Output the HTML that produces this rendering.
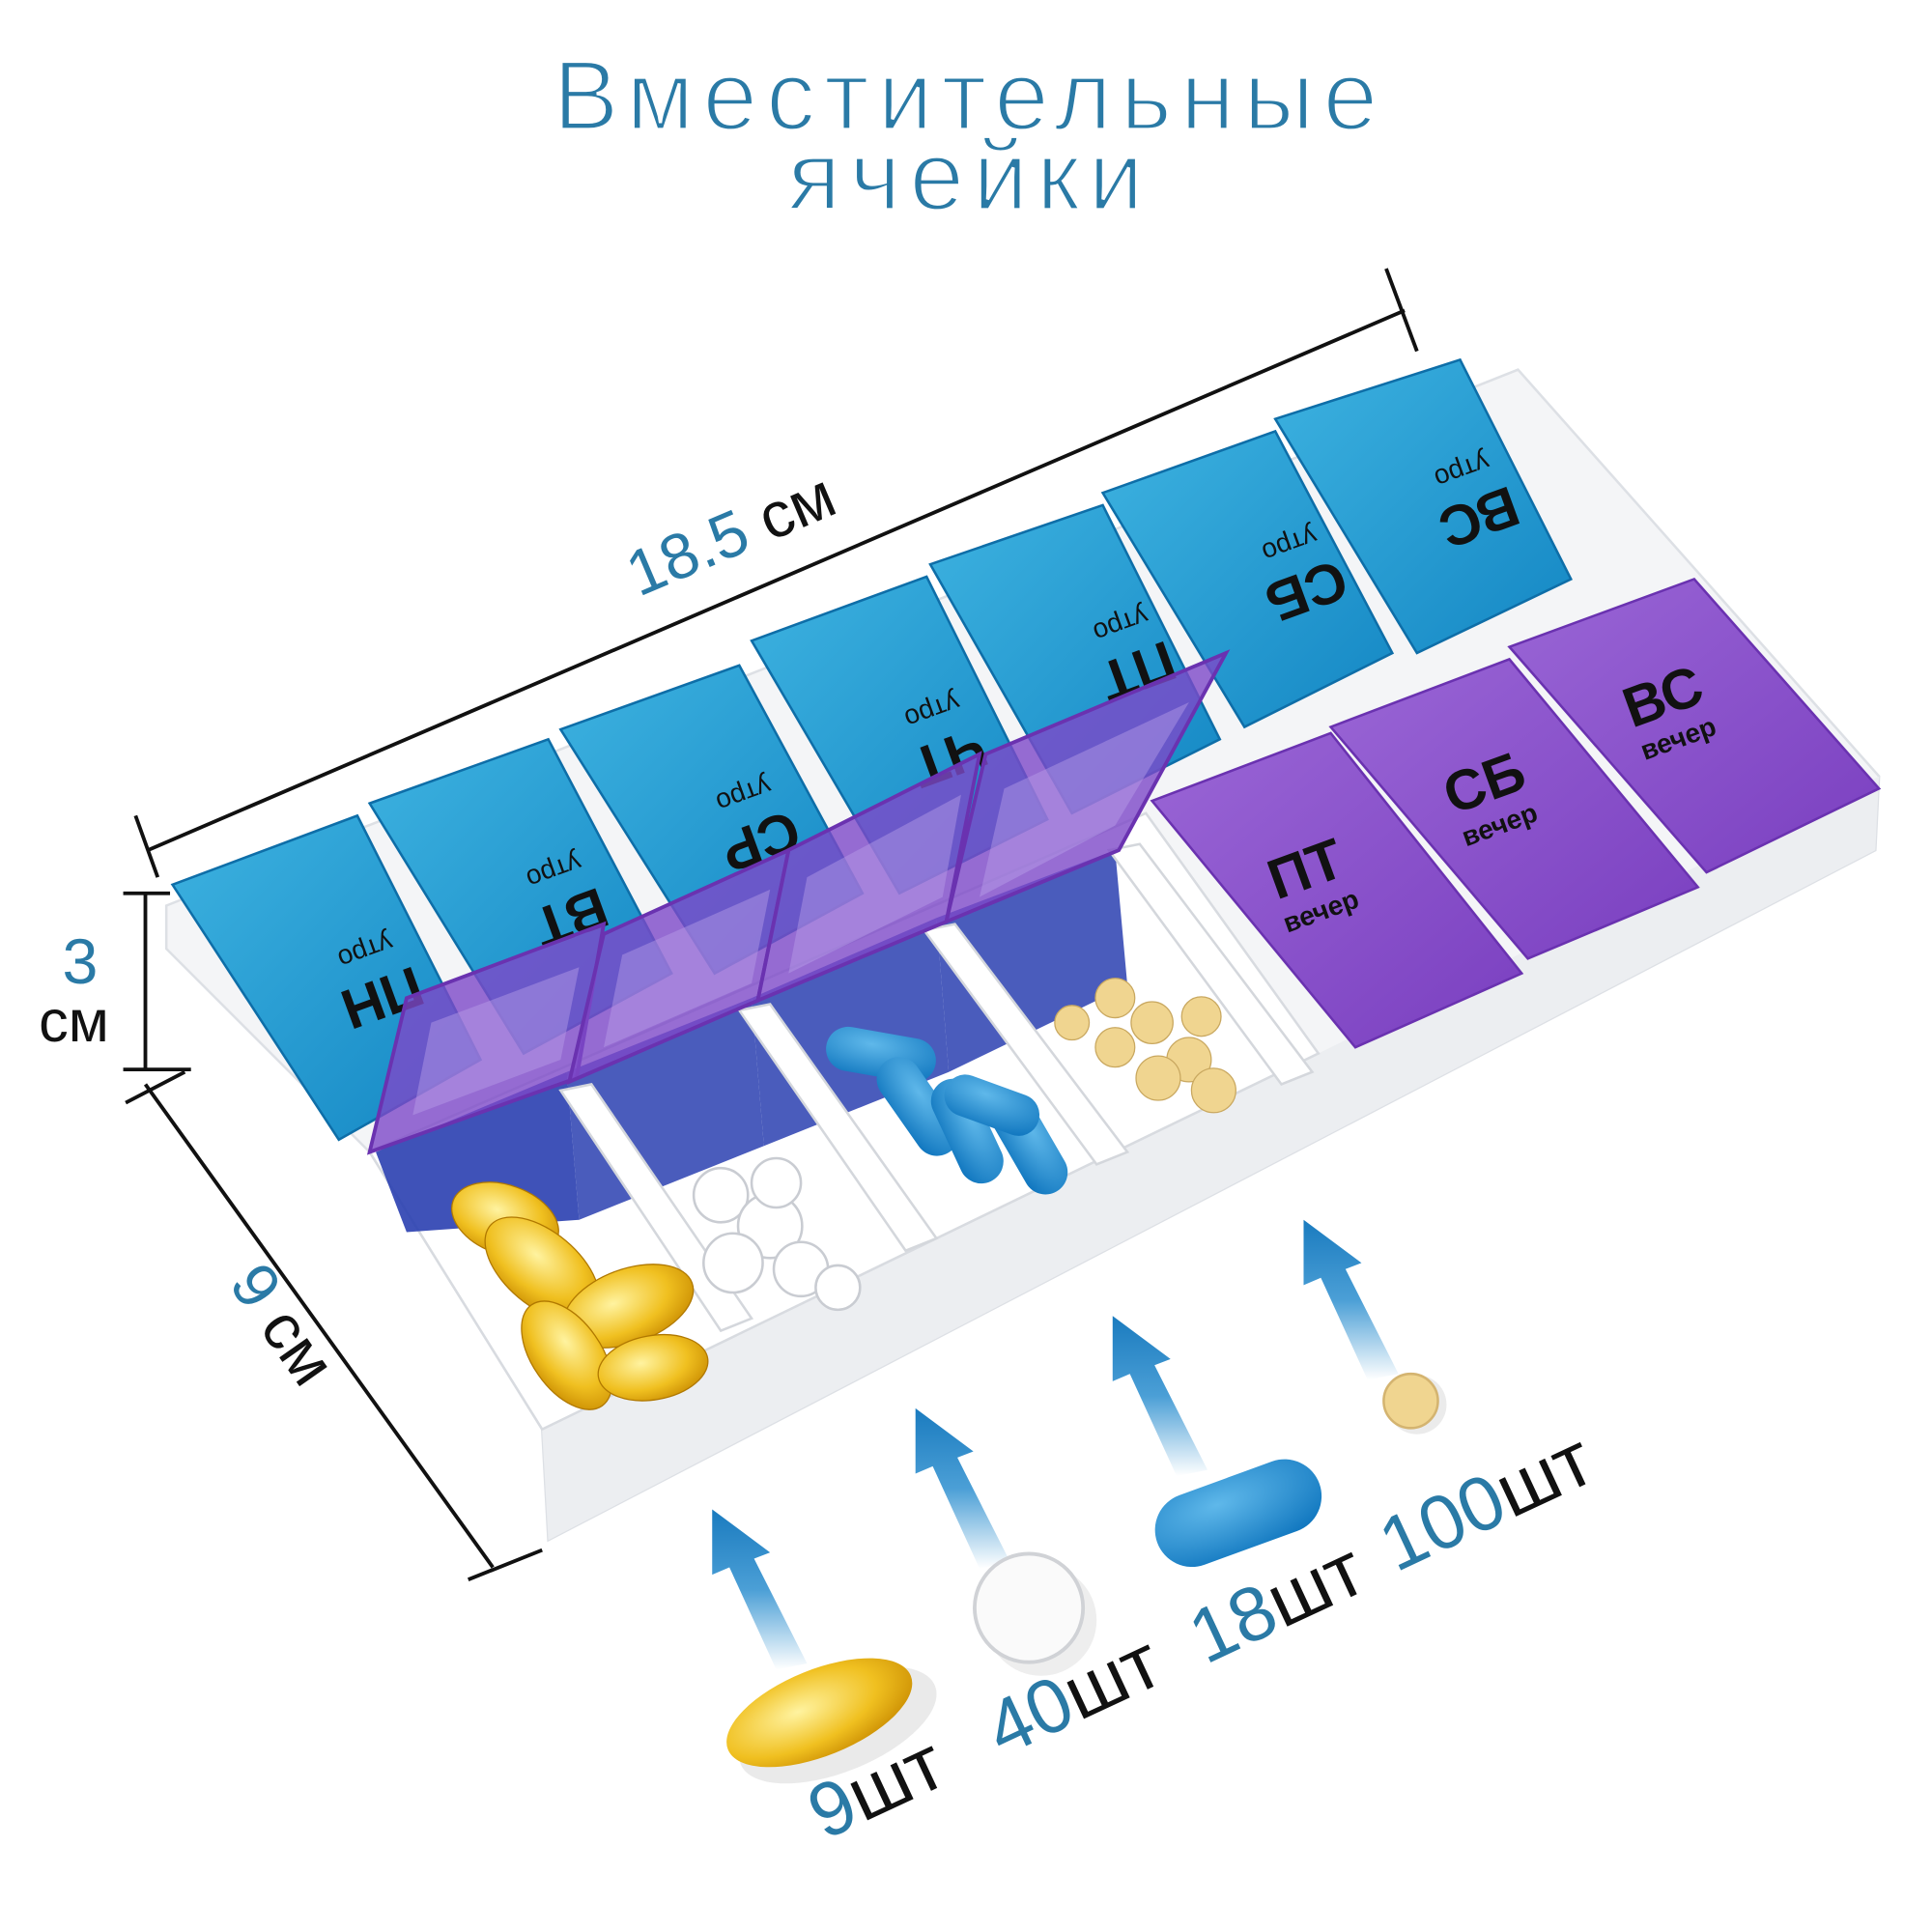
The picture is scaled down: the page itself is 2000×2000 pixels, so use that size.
<!DOCTYPE html>
<html><head><meta charset="utf-8"><style>
html,body{margin:0;padding:0;background:#fff;width:2000px;height:2000px;overflow:hidden}
svg{display:block}
text{font-family:"Liberation Sans",sans-serif}
</style></head><body>
<svg width="2000" height="2000" viewBox="0 0 1568 1568" xmlns="http://www.w3.org/2000/svg">
<defs>
<linearGradient id="bl" x1="0" y1="0" x2="1" y2="1"><stop offset="0" stop-color="#3db2e0"/><stop offset="1" stop-color="#1487c4"/></linearGradient>
<linearGradient id="pu" x1="0" y1="0" x2="1" y2="1"><stop offset="0" stop-color="#9a66d6"/><stop offset="1" stop-color="#7a3fc0"/></linearGradient>
<linearGradient id="ar" x1="0" y1="0" x2="0" y2="1"><stop offset="0" stop-color="#1a7bbf"/><stop offset="0.5" stop-color="#4b9fd6"/><stop offset="1" stop-color="#ffffff"/></linearGradient>
<radialGradient id="yc" cx="0.4" cy="0.4" r="0.7"><stop offset="0" stop-color="#fff3a0"/><stop offset="0.6" stop-color="#f0c020"/><stop offset="1" stop-color="#c88a00"/></radialGradient>
<radialGradient id="bc" cx="0.4" cy="0.3" r="0.8"><stop offset="0" stop-color="#5fb8ea"/><stop offset="1" stop-color="#1278c0"/></radialGradient>
</defs>

<!-- title -->
<text x="787" y="105" text-anchor="middle" font-size="80" fill="#2a7aa6" stroke="#fff" stroke-width="2.5" letter-spacing="7">Вместительные</text>
<text x="787" y="170" text-anchor="middle" font-size="80" fill="#2a7aa6" stroke="#fff" stroke-width="2.5" letter-spacing="7">ячейки</text>

<!-- tray white body -->
<polygon points="135,735 1232,300 1525,630 1522,690 445,1250 440,1160 300,935 135,770" fill="#f4f5f7" stroke="#dde0e5" stroke-width="2"/>
<polygon points="300,935 440,1160 445,1250 1522,690 1525,630 1070,855" fill="#eceef1"/>

<!-- back row blue lids -->
<g stroke="#0e6ea8" stroke-width="2">
<polygon points="1035,340 1185,292 1275,470 1150,530" fill="url(#bl)"/>
<polygon points="895,400 1035,350 1130,530 1010,590" fill="url(#bl)"/>
<polygon points="755,458 895,410 990,600 870,660" fill="url(#bl)"/>
<polygon points="610,520 752,468 850,665 730,725" fill="url(#bl)"/>
<polygon points="455,592 600,540 700,725 580,790" fill="url(#bl)"/>
<polygon points="300,652 445,600 545,790 425,855" fill="url(#bl)"/>
<polygon points="140,718 290,662 390,860 275,925" fill="url(#bl)"/>
</g>
<g font-weight="bold" fill="#111">
<g transform="translate(305,795) rotate(160)"><text font-size="46" text-anchor="middle">ПН</text><text y="32" font-size="22" text-anchor="middle" font-weight="normal">утро</text></g>
<g transform="translate(458,730) rotate(160)"><text font-size="46" text-anchor="middle">ВТ</text><text y="32" font-size="22" text-anchor="middle" font-weight="normal">утро</text></g>
<g transform="translate(612,668) rotate(160)"><text font-size="46" text-anchor="middle">СР</text><text y="32" font-size="22" text-anchor="middle" font-weight="normal">утро</text></g>
<g transform="translate(765,600) rotate(160)"><text font-size="46" text-anchor="middle">ЧТ</text><text y="32" font-size="22" text-anchor="middle" font-weight="normal">утро</text></g>
<g transform="translate(918,530) rotate(160)"><text font-size="46" text-anchor="middle">ПТ</text><text y="32" font-size="22" text-anchor="middle" font-weight="normal">утро</text></g>
<g transform="translate(1055,465) rotate(160)"><text font-size="46" text-anchor="middle">СБ</text><text y="32" font-size="22" text-anchor="middle" font-weight="normal">утро</text></g>
<g transform="translate(1195,405) rotate(160)"><text font-size="46" text-anchor="middle">ВС</text><text y="32" font-size="22" text-anchor="middle" font-weight="normal">утро</text></g>
</g>

<!-- open compartments -->
<polygon points="300,935 930,660 1070,855 440,1160" fill="#ffffff" stroke="#d8dbe0" stroke-width="2"/>
<polygon points="305,935 460,870 470,990 330,1000" fill="#2a3fb0" opacity="0.9"/>
<polygon points="460,870 610,810 620,930 470,990" fill="#2a3fb0" opacity="0.85"/>
<polygon points="610,810 760,745 770,870 620,930" fill="#2a3fb0" opacity="0.85"/>
<polygon points="760,745 905,690 915,800 770,870" fill="#2a3fb0" opacity="0.85"/>
<g fill="#ffffff" stroke="#d4d7dc" stroke-width="2">
<polygon points="455,885 480,880 610,1070 585,1080"/>
<polygon points="600,820 625,815 760,1005 735,1015"/>
<polygon points="750,755 775,750 915,935 890,945"/>
<polygon points="900,690 925,685 1065,870 1040,880"/>
</g>
<!-- open flaps -->
<g fill="#7d48c8" fill-opacity="0.8" stroke="#6a32b0" stroke-width="3">
<polygon points="300,935 330,810 490,750 468,875"/>
<polygon points="462,878 490,758 640,690 615,812"/>
<polygon points="615,812 640,690 795,612 768,748"/>
<polygon points="768,748 800,612 995,530 908,690"/>
</g>
<g fill="#b8a0e8" fill-opacity="0.45">
<polygon points="335,905 350,830 470,785 455,860"/>
<polygon points="490,850 505,775 625,722 610,798"/>
<polygon points="640,790 655,712 780,645 765,728"/>
<polygon points="795,728 815,640 965,570 905,670"/>
</g>
<!-- pills in compartments -->
<g fill="url(#yc)" stroke="#b07800" stroke-width="1">
<ellipse cx="410" cy="990" rx="45" ry="28" transform="rotate(20 410 990)"/>
<ellipse cx="440" cy="1030" rx="55" ry="30" transform="rotate(40 440 1030)"/>
<ellipse cx="510" cy="1060" rx="55" ry="30" transform="rotate(-20 510 1060)"/>
<ellipse cx="460" cy="1100" rx="50" ry="28" transform="rotate(55 460 1100)"/>
<ellipse cx="530" cy="1110" rx="45" ry="26" transform="rotate(-10 530 1110)"/>
</g>
<g fill="#ffffff" stroke="#c9ccd2" stroke-width="2">
<circle cx="585" cy="970" r="22"/><circle cx="625" cy="995" r="26"/><circle cx="595" cy="1025" r="24"/><circle cx="650" cy="1030" r="22"/><circle cx="630" cy="960" r="20"/><circle cx="680" cy="1045" r="18"/>
</g>
<g fill="url(#bc)">
<rect x="670" y="838" width="90" height="36" rx="18" transform="rotate(10 715 856)"/>
<rect x="700" y="880" width="90" height="36" rx="18" transform="rotate(55 745 898)"/>
<rect x="740" y="900" width="90" height="36" rx="18" transform="rotate(65 785 918)"/>
<rect x="790" y="910" width="90" height="36" rx="18" transform="rotate(60 835 928)"/>
<rect x="765" y="880" width="80" height="34" rx="17" transform="rotate(20 805 897)"/>
</g>
<g fill="#f0d590" stroke="#c9a860" stroke-width="1">
<circle cx="905" cy="810" r="16"/><circle cx="935" cy="830" r="17"/><circle cx="965" cy="860" r="18"/><circle cx="975" cy="825" r="16"/><circle cx="940" cy="875" r="18"/><circle cx="985" cy="885" r="18"/><circle cx="905" cy="850" r="16"/><circle cx="870" cy="830" r="14"/>
</g>

<!-- front purple closed lids -->
<g stroke="#6a32b0" stroke-width="2" fill="url(#pu)">
<polygon points="935,650 1080,595 1235,790 1100,850"/>
<polygon points="1080,590 1225,535 1378,720 1240,778"/>
<polygon points="1225,525 1375,470 1525,640 1385,708"/>
</g>
<g font-weight="bold" fill="#111">
<g transform="translate(1065,720) rotate(-20)"><text font-size="46" text-anchor="middle">ПТ</text><text y="28" font-size="22" text-anchor="middle">вечер</text></g>
<g transform="translate(1210,650) rotate(-20)"><text font-size="46" text-anchor="middle">СБ</text><text y="28" font-size="22" text-anchor="middle">вечер</text></g>
<g transform="translate(1355,580) rotate(-20)"><text font-size="46" text-anchor="middle">ВС</text><text y="28" font-size="22" text-anchor="middle">вечер</text></g>
</g>

<!-- dimension lines -->
<g stroke="#111" stroke-width="3" fill="none">
<line x1="120" y1="690" x2="1140" y2="252"/>
<line x1="110" y1="662" x2="128" y2="712"/>
<line x1="1125" y1="218" x2="1150" y2="285"/>
<line x1="118" y1="725" x2="118" y2="868"/>
<line x1="100" y1="725" x2="138" y2="725"/>
<line x1="100" y1="868" x2="155" y2="868"/>
<line x1="118" y1="880" x2="400" y2="1272"/>
<line x1="102" y1="895" x2="150" y2="870"/>
<line x1="380" y1="1282" x2="440" y2="1258"/>
</g>
<g transform="translate(600,450) rotate(-23)"><text font-size="52" text-anchor="middle" fill="#2a7aa6">18.5 <tspan fill="#111">см</tspan></text></g>
<text x="65" y="798" font-size="52" text-anchor="middle" fill="#2a7aa6">3</text>
<text x="60" y="845" font-size="48" text-anchor="middle" fill="#111">см</text>
<g transform="translate(215,1085) rotate(55)"><text font-size="52" text-anchor="middle" fill="#2a7aa6">9 <tspan fill="#111">см</tspan></text></g>

<!-- arrows -->
<g fill="url(#ar)">
<polygon points="578,1225 625,1260 612,1265 655,1350 630,1355 592,1272 578,1278"/>
<polygon points="743,1143 790,1178 777,1183 820,1268 795,1273 757,1190 743,1196"/>
<polygon points="903,1068 950,1103 937,1108 980,1193 955,1198 917,1115 903,1121"/>
<polygon points="1058,990 1105,1025 1092,1030 1135,1115 1110,1120 1072,1037 1058,1043"/>
</g>

<!-- sample pills -->
<ellipse cx="680" cy="1400" rx="85" ry="38" transform="rotate(-22 680 1400)" fill="#aaa" opacity="0.25"/>
<ellipse cx="665" cy="1390" rx="80" ry="35" transform="rotate(-22 665 1390)" fill="url(#yc)"/>
<circle cx="845" cy="1315" r="45" fill="#ddd" opacity="0.5"/>
<circle cx="835" cy="1305" r="44" fill="#fafafa" stroke="#d0d2d6" stroke-width="3"/>
<rect x="935" y="1198" width="140" height="60" rx="30" transform="rotate(-20 1005 1228)" fill="url(#bc)"/>
<circle cx="1150" cy="1140" r="24" fill="#ccc" opacity="0.4"/>
<circle cx="1145" cy="1137" r="22" fill="#f0d590" stroke="#d4b470" stroke-width="2"/>

<!-- counts -->
<g transform="translate(720,1470) rotate(-25)"><text font-size="62" text-anchor="middle" fill="#2a7aa6">9<tspan fill="#111">шт</tspan></text></g>
<g transform="translate(880,1395) rotate(-25)"><text font-size="62" text-anchor="middle" fill="#2a7aa6">40<tspan fill="#111">шт</tspan></text></g>
<g transform="translate(1045,1320) rotate(-25)"><text font-size="62" text-anchor="middle" fill="#2a7aa6">18<tspan fill="#111">шт</tspan></text></g>
<g transform="translate(1215,1238) rotate(-25)"><text font-size="62" text-anchor="middle" fill="#2a7aa6">100<tspan fill="#111">шт</tspan></text></g>
</svg>
</body></html>
